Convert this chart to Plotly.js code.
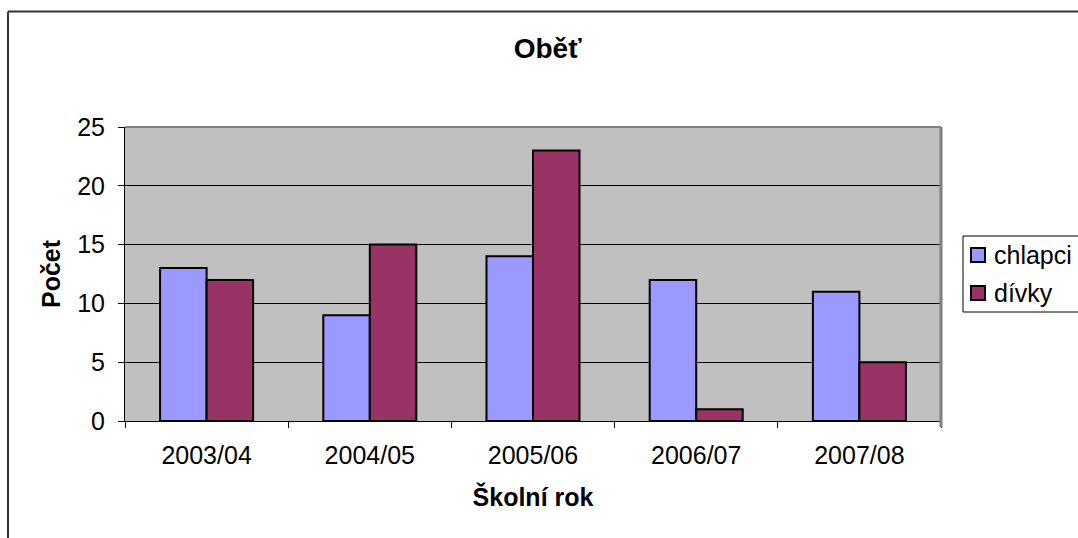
<!DOCTYPE html>
<html>
<head>
<meta charset="utf-8">
<script src="https://cdn.plot.ly/plotly-3.0.1.min.js"></script>
<style>
html,body{margin:0;padding:0;background:#fff;}
#chart{width:1078px;height:538px;}
</style>
</head>
<body>
<div id="chart"></div>
<script>
const years = ["2003/04", "2004/05", "2005/06", "2006/07", "2007/08"];
const chlapci = [13, 9, 14, 12, 11];
const divky = [12, 15, 23, 1, 5];
const yTicks = [0, 5, 10, 15, 20, 25];
const seriesNames = ["chlapci", "dívky"];
const seriesColors = ["#9999FF", "#993366"];

const F = "Liberation Sans, Arial, sans-serif";
const W = 1078, H = 538, ML = 125, MR = 137, MT = 127, MB = 117;
const PW = W - ML - MR, PH = H - MT - MB;
const px = v => (v - ML) / PW;
const py = v => (H - MB - v) / PH;

const traces = [
  {type: "bar", name: seriesNames[0], x: years, y: chlapci, showlegend: false,
   marker: {color: seriesColors[0], line: {color: "#000", width: 2}}},
  {type: "bar", name: seriesNames[1], x: years, y: divky, showlegend: false,
   marker: {color: seriesColors[1], line: {color: "#000", width: 2}}}
];

const shapes = [
  {type: "line", xref: "paper", yref: "paper", x0: 0, x1: 1, y0: 1, y1: 1,
   line: {color: "#808080", width: 2}},
  {type: "line", xref: "paper", yref: "paper", x0: 1, x1: 1, y0: py(427), y1: 1,
   line: {color: "#808080", width: 3}},
  {type: "line", xref: "paper", yref: "paper", x0: px(8), x1: px(1100), y0: py(11.5), y1: py(11.5),
   line: {color: "#333", width: 2}},
  {type: "line", xref: "paper", yref: "paper", x0: px(8), x1: px(8), y0: py(11.5), y1: py(560),
   line: {color: "#333", width: 2}},
  // legend box
  {type: "rect", xref: "paper", yref: "paper", x0: px(963), x1: px(1100), y0: py(236), y1: py(312),
   line: {color: "#000", width: 1}, fillcolor: "#fff"}
];
const annotations = [];
const legY = [255, 293];
seriesNames.forEach((n, i) => {
  shapes.push({type: "rect", xref: "paper", yref: "paper",
    x0: px(971), x1: px(985), y0: py(legY[i] - 7), y1: py(legY[i] + 7),
    line: {color: "#000", width: 2}, fillcolor: seriesColors[i]});
  annotations.push({xref: "paper", yref: "paper", x: px(992), y: py(legY[i]),
    xanchor: "left", yanchor: "middle", showarrow: false, text: n,
    font: {family: F, size: 25, color: "#000"}});
});

const layout = {
  width: W, height: H,
  margin: {l: ML, r: MR, t: MT, b: MB, pad: 0},
  paper_bgcolor: "#ffffff",
  plot_bgcolor: "#C0C0C0",
  font: {family: F, size: 25, color: "#000"},
  barmode: "group",
  bargap: 0.43,
  bargroupgap: 0,
  showlegend: false,
  title: {text: "<b>Oběť</b>", x: 0.508, xref: "container", y: 0.911, yref: "container",
          xanchor: "center", yanchor: "middle", font: {family: F, size: 28, color: "#000"}},
  xaxis: {
    title: {text: "<b>Školní rok</b>", font: {family: F, size: 25}, standoff: 20},
    showline: true, linecolor: "#000", linewidth: 1,
    ticks: "outside", tickson: "boundaries", ticklen: 6, tickcolor: "#000",
    ticklabelstandoff: 12,
    tickfont: {family: F, size: 25}, showgrid: false
  },
  yaxis: {
    title: {text: "<b>Počet</b>", font: {family: F, size: 25}, standoff: 9},
    range: [0, 25], tickvals: yTicks, ticktext: yTicks.map(String),
    showline: true, linecolor: "#000", linewidth: 1,
    ticks: "outside", ticklen: 6, tickcolor: "#000",
    ticklabelstandoff: 8,
    tickfont: {family: F, size: 25},
    showgrid: true, gridcolor: "#000", gridwidth: 1, zeroline: false
  },
  shapes: shapes,
  annotations: annotations
};

Plotly.newPlot("chart", traces, layout, {displayModeBar: false, staticPlot: true});
</script>
</body>
</html>
